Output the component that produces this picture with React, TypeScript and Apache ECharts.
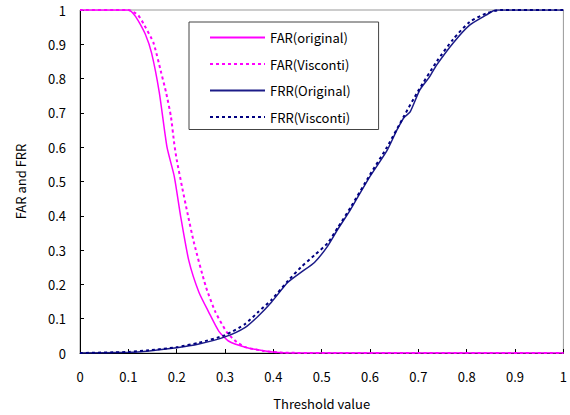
import React, { useEffect, useRef } from "react";
import * as echarts from "echarts";

const xTicks = [0, 0.1, 0.2, 0.3, 0.4, 0.5, 0.6, 0.7, 0.8, 0.9, 1];

const farOrigX = [0, 0.05, 0.1, 0.11, 0.12, 0.135, 0.148, 0.164, 0.18, 0.195, 0.208, 0.225, 0.246, 0.266, 0.287, 0.307, 0.342, 0.383, 0.42, 0.5, 0.6, 0.7, 0.8, 0.9, 1.0];
const farOrigY = [1, 1, 1, 0.99, 0.97, 0.93, 0.875, 0.76, 0.6, 0.515, 0.4, 0.27, 0.177, 0.12, 0.064, 0.035, 0.017, 0.006, 0.001, 0, 0, 0, 0, 0, 0];

const farViscX = [0, 0.1, 0.12, 0.133, 0.152, 0.168, 0.178, 0.188, 0.195, 0.2, 0.211, 0.222, 0.236, 0.26, 0.28, 0.304, 0.324, 0.342, 0.38, 0.42, 0.5, 0.7, 1];
const farViscY = [1, 1, 0.985, 0.956, 0.904, 0.817, 0.76, 0.69, 0.61, 0.564, 0.485, 0.41, 0.32, 0.195, 0.12, 0.06, 0.032, 0.017, 0.006, 0.001, 0, 0, 0];

const frrOrigX = [0, 0.1, 0.143, 0.2, 0.246, 0.3, 0.342, 0.369, 0.396, 0.43, 0.457, 0.485, 0.512, 0.533, 0.56, 0.574, 0.6, 0.635, 0.656, 0.67, 0.683, 0.703, 0.723, 0.738, 0.772, 0.806, 0.84, 0.86, 0.9, 1];
const frrOrigY = [0, 0.002, 0.006, 0.015, 0.026, 0.047, 0.075, 0.108, 0.148, 0.206, 0.235, 0.264, 0.311, 0.36, 0.419, 0.453, 0.515, 0.59, 0.651, 0.686, 0.703, 0.767, 0.805, 0.84, 0.904, 0.956, 0.985, 1, 1, 1];

const frrViscX = [0, 0.1, 0.143, 0.2, 0.246, 0.3, 0.342, 0.369, 0.396, 0.43, 0.457, 0.485, 0.512, 0.533, 0.56, 0.6, 0.635, 0.67, 0.7, 0.738, 0.772, 0.806, 0.84, 0.87, 0.9, 1];
const frrViscY = [0, 0.003, 0.008, 0.017, 0.03, 0.052, 0.085, 0.12, 0.155, 0.21, 0.25, 0.285, 0.32, 0.365, 0.425, 0.52, 0.6, 0.69, 0.765, 0.85, 0.915, 0.965, 0.99, 1, 1, 1];

const seriesNames = ["FAR(original)", "FAR(Visconti)", "FRR(Original)", "FRR(Visconti)"];

const pairs = (xs: number[], ys: number[]) => xs.map((x, i) => [x, ys[i]]);

const FONT = "'Noto Sans CJK JP', 'DejaVu Sans', sans-serif";

export default function App() {
  const ref = useRef<HTMLDivElement>(null);
  useEffect(() => {
    if (!ref.current) return;
    const chart = echarts.init(ref.current, null, { renderer: "svg" });
    const mk = (name: string, xs: number[], ys: number[], color: string, dashed: boolean) => ({
      name,
      type: "line",
      data: pairs(xs, ys),
      showSymbol: false,
      symbol: "none",
      smooth: 0.2,
      lineStyle: { color, width: dashed ? 2 : 1.5, type: dashed ? [3, 3] : "solid" },
      itemStyle: { color },
    });
    chart.setOption({
      animation: false,
      textStyle: { fontFamily: FONT },
      grid: { left: 80, right: 2, top: 10, bottom: 61, show: true, borderColor: "#999", borderWidth: 1 },
      legend: {
        orient: "vertical",
        left: 189,
        top: 22,
        itemWidth: 55,
        itemHeight: 14,
        itemGap: 13.5,
        padding: [9, 28, 6, 20],
        borderColor: "#444",
        borderWidth: 1,
        backgroundColor: "#fff",
        itemStyle: { opacity: 0 },
        data: seriesNames,
        textStyle: { fontFamily: FONT, fontSize: 13, color: "#000" },
      },
      xAxis: {
        type: "value",
        min: 0,
        max: 1,
        interval: 0.1,
        name: "Threshold value",
        nameLocation: "middle",
        nameGap: 44,
        nameTextStyle: { fontFamily: FONT, fontSize: 13, color: "#000" },
        axisLine: { lineStyle: { color: "#000", width: 1 } },
        axisTick: { inside: true, length: 4, lineStyle: { color: "#000" } },
        axisLabel: { fontFamily: FONT, fontSize: 13, color: "#000", margin: 17 },
        splitLine: { show: false },
      },
      yAxis: {
        type: "value",
        min: 0,
        max: 1,
        interval: 0.1,
        name: "FAR and FRR",
        nameLocation: "middle",
        nameGap: 53,
        nameTextStyle: { fontFamily: FONT, fontSize: 13, color: "#000" },
        axisLine: { show: true, lineStyle: { color: "#000", width: 1 } },
        axisTick: { show: true, inside: true, length: 4, lineStyle: { color: "#000" } },
        axisLabel: { fontFamily: FONT, fontSize: 13, color: "#000", margin: 14 },
        splitLine: { show: false },
      },
      series: [
        mk(seriesNames[0], farOrigX, farOrigY, "#ff00ff", false),
        mk(seriesNames[1], farViscX, farViscY, "#ff00ff", true),
        mk(seriesNames[2], frrOrigX, frrOrigY, "#1c1c88", false),
        mk(seriesNames[3], frrViscX, frrViscY, "#000080", true),
      ],
    });
    return () => chart.dispose();
  }, []);
  return <div ref={ref} style={{ width: 570, height: 415, position: "absolute", left: 0, top: 0 }} />;
}
